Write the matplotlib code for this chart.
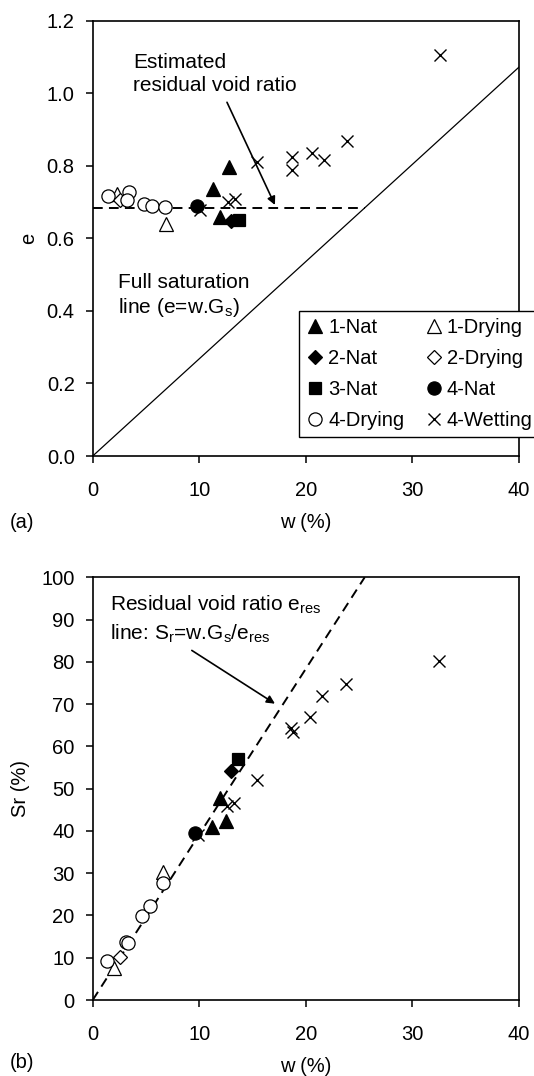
import numpy as np
import matplotlib.pyplot as plt
from matplotlib.lines import Line2D

plt.rcParams['font.family'] = ['Liberation Sans', 'DejaVu Sans']
plt.rcParams['mathtext.fontset'] = 'custom'
plt.rcParams['mathtext.rm'] = 'Liberation Sans'
plt.rcParams['mathtext.default'] = 'rm'

# soil constants
Gs = 2.68
e_res = 0.684

# (a) void ratio e against water content w (%)
nat1_w = [12.8, 11.3, 11.9]
nat1_e = [0.798, 0.736, 0.660]
dry1_w = [2.3, 6.9]
dry1_e = [0.722, 0.640]
nat2_w = [13.0]
nat2_e = [0.648]
dry2_w = [2.6]
dry2_e = [0.705]
nat3_w = [13.7]
nat3_e = [0.650]
nat4_w = [9.75]
nat4_e = [0.690]
dry4_w = [1.45, 3.4, 3.2, 4.8, 5.55, 6.8]
dry4_e = [0.718, 0.727, 0.706, 0.694, 0.690, 0.686]
wet4_w = [32.6, 23.9, 18.7, 18.7, 20.6, 21.7, 15.4, 13.35, 12.7, 10.1]
wet4_e = [1.105, 0.868, 0.825, 0.787, 0.836, 0.816, 0.810, 0.708, 0.701, 0.678]

# (b) degree of saturation Sr (%) against w (%)
nat1_w_b = [12.5, 11.2, 11.9]
nat1_sr = [42.4, 41.0, 47.7]
dry1_w_b = [2.0, 6.6]
dry1_sr = [7.5, 30.2]
nat2_w_b = [13.0]
nat2_sr = [54.1]
dry2_w_b = [2.6]
dry2_sr = [10.2]
nat3_w_b = [13.66]
nat3_sr = [57.1]
nat4_w_b = [9.6]
nat4_sr = [39.4]
dry4_w_b = [1.35, 3.1, 3.3, 4.6, 5.4, 6.6]
dry4_sr = [9.2, 13.8, 13.5, 19.9, 22.3, 27.6]
wet4_w_b = [32.5, 23.8, 21.5, 20.4, 18.6, 18.8, 15.4, 13.3, 12.6, 9.9]
wet4_sr = [80.1, 74.7, 71.9, 67.0, 64.3, 63.5, 52.0, 46.6, 46.0, 39.0]

FS = 14.5
base = dict(linestyle='none', markeredgecolor='black', markeredgewidth=0.9)
styles = {
    '1-Nat': dict(marker='^', ms=10.5, markerfacecolor='black'),
    '1-Drying': dict(marker='^', ms=10.5, markerfacecolor='white'),
    '2-Nat': dict(marker='D', ms=7, markerfacecolor='black'),
    '2-Drying': dict(marker='D', ms=7, markerfacecolor='white'),
    '3-Nat': dict(marker='s', ms=9, markerfacecolor='black'),
    '4-Nat': dict(marker='o', ms=9.5, markerfacecolor='black'),
    '4-Drying': dict(marker='o', ms=9.5, markerfacecolor='white'),
    '4-Wetting': dict(marker='x', ms=9, markeredgewidth=1.0, markerfacecolor='black'),
}


def mstyle(name):
    return {**base, **styles[name]}


def style_axes(ax):
    for sp in ax.spines.values():
        sp.set_linewidth(1.2)
    ax.tick_params(direction='out', length=5, width=1.1, labelsize=FS,
                   top=False, right=False)
    ax.tick_params(axis='x', pad=13)
    ax.tick_params(axis='y', pad=8)


fig = plt.figure(figsize=(5.34, 10.76), dpi=100)
ax1 = fig.add_axes([0.1736, 0.5762, 0.7983, 0.4046])
ax2 = fig.add_axes([0.1736, 0.0706, 0.7983, 0.3929])

# --- panel (a)
w_line = np.array([0, 40])
ax1.plot(w_line, w_line * Gs / 100, color='black', lw=0.9, zorder=1)
ax1.plot([0, e_res * 100 / Gs], [e_res, e_res], color='black', lw=1.4,
         dashes=(5, 3.2), zorder=1)

series_a = [('1-Nat', nat1_w, nat1_e), ('1-Drying', dry1_w, dry1_e),
            ('2-Nat', nat2_w, nat2_e), ('2-Drying', dry2_w, dry2_e),
            ('4-Wetting', wet4_w, wet4_e),
            ('3-Nat', nat3_w, nat3_e), ('4-Nat', nat4_w, nat4_e),
            ('4-Drying', dry4_w, dry4_e)]
for name, x, y in series_a:
    ax1.plot(x, y, zorder=3, **mstyle(name))

ax1.set_xlim(0, 40)
ax1.set_ylim(0, 1.2)
ax1.set_xticks([0, 10, 20, 30, 40])
ax1.set_yticks(np.arange(0, 1.21, 0.2))
ax1.yaxis.set_major_formatter(plt.FormatStrFormatter('%.1f'))
ax1.set_xlabel('w (%)', fontsize=FS, labelpad=9)
ax1.set_ylabel('e', fontsize=FS, labelpad=6)
style_axes(ax1)

ax1.text(3.8, 1.11, 'Estimated\nresidual void ratio', fontsize=FS + 0.5,
         va='top', ha='left', linespacing=1.25)
ax1.annotate('', xy=(17.1, 0.692), xytext=(12.6, 0.975),
             arrowprops=dict(arrowstyle='-|>', color='black', lw=1.2,
                             mutation_scale=12, shrinkA=0, shrinkB=0))
ax1.text(2.4, 0.505, 'Full saturation\nline (e=w.G$_s$)', fontsize=FS + 0.5,
         va='top', ha='left', linespacing=1.25)

legend_order = ['1-Nat', '2-Nat', '3-Nat', '4-Drying',
                '1-Drying', '2-Drying', '4-Nat', '4-Wetting']
handles = [Line2D([], [], **mstyle(n)) for n in legend_order]
leg = ax1.legend(handles, legend_order, ncol=2, fontsize=FS,
                 loc='lower left', bbox_to_anchor=(0.484, 0.044),
                 frameon=True, fancybox=False, edgecolor='black',
                 framealpha=1, borderpad=0.35, handlelength=0.9,
                 handletextpad=0.2, columnspacing=1.0, labelspacing=0.6,
                 borderaxespad=0)
leg.get_frame().set_linewidth(1.0)
leg.set_clip_on(False)

# --- panel (b)
w_res = np.array([0, 100 * e_res / Gs])
ax2.plot(w_res, w_res * Gs / e_res, color='black', lw=1.4, dashes=(5, 3.2),
         zorder=1)

series_b = [('1-Nat', nat1_w_b, nat1_sr), ('1-Drying', dry1_w_b, dry1_sr),
            ('2-Nat', nat2_w_b, nat2_sr), ('2-Drying', dry2_w_b, dry2_sr),
            ('4-Wetting', wet4_w_b, wet4_sr),
            ('3-Nat', nat3_w_b, nat3_sr), ('4-Nat', nat4_w_b, nat4_sr),
            ('4-Drying', dry4_w_b, dry4_sr)]
for name, x, y in series_b:
    ax2.plot(x, y, zorder=3, **mstyle(name))

ax2.set_xlim(0, 40)
ax2.set_ylim(0, 100)
ax2.set_xticks([0, 10, 20, 30, 40])
ax2.set_yticks(np.arange(0, 101, 10))
ax2.set_xlabel('w (%)', fontsize=FS, labelpad=9)
ax2.set_ylabel('Sr (%)', fontsize=FS, labelpad=8)
style_axes(ax2)

ax2.text(1.6, 96, 'Residual void ratio e$_{res}$\nline: S$_r$=w.G$_s$/e$_{res}$',
         fontsize=FS + 0.5, va='top', ha='left', linespacing=1.35)
ax2.annotate('', xy=(17.1, 70.1), xytext=(9.3, 82.7),
             arrowprops=dict(arrowstyle='-|>', color='black', lw=1.2,
                             mutation_scale=12, shrinkA=0, shrinkB=0))

fig.text(0.018, 1 - 523 / 1076, '(a)', fontsize=FS, va='center', ha='left')
fig.text(0.018, 1 - 1062 / 1076, '(b)', fontsize=FS, va='center', ha='left')

fig.savefig('out.png', dpi=100)
